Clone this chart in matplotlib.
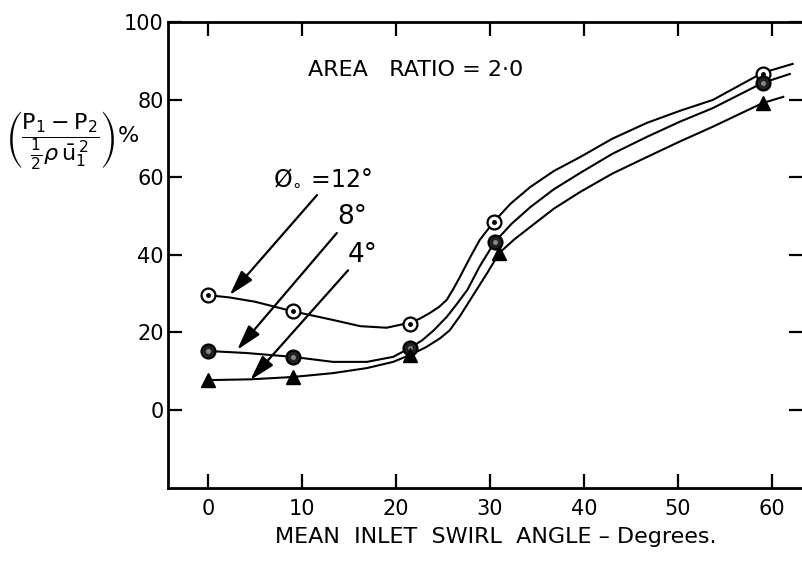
import matplotlib
matplotlib.use("Agg")
import matplotlib.pyplot as plt

# measured points (swirl angle in degrees, pressure-loss coefficient %)
x_12 = [0, 9, 21.5, 30.4, 59]
y_12 = [29.6, 25.5, 22.2, 48.5, 86.7]
x_8 = [0, 9, 21.5, 30.5, 59]
y_8 = [15.2, 13.7, 16.0, 43.3, 84.3]
x_4 = [0, 9, 21.5, 31, 59]
y_4 = [7.7, 8.5, 14.2, 40.5, 79.1]

# hand-faired curves
cx_12 = [0, 2.3, 5, 8.9, 11, 13.3, 16.2, 19, 21.3, 22.5, 23.6, 24.6, 25.4, 26.1, 26.8, 27.9, 28.9, 30.4,
         32.2, 34.3, 36.8, 39.6, 43, 46.7, 50.2, 53.7, 59, 62.2]
cy_12 = [29.6, 29.0, 27.9, 25.5, 24.4, 23.2, 21.6, 21.2, 22.4, 23.5, 25.0, 26.6, 28.4, 31.2, 34.3, 39.4, 43.8, 48.5,
         53.2, 57.5, 61.6, 65.2, 69.9, 74.0, 77.1, 79.9, 86.9, 89.2]
cx_8 = [0, 4, 9, 13.3, 16.9, 19.7, 21.5, 22.8, 24, 25.4, 26.5, 27.6, 28.9, 30.5,
        32.3, 34.3, 36.8, 39.6, 43, 46.7, 50.2, 53.7, 59, 61.9]
cy_8 = [15.2, 14.7, 13.7, 12.4, 12.4, 13.7, 16.0, 18.0, 20.5, 24.0, 27.4, 31.0, 37.0, 43.3,
        48.0, 52.3, 56.9, 61.1, 66.0, 70.4, 74.3, 77.8, 84.3, 86.6]
cx_4 = [0, 4.5, 9, 13.3, 16.9, 19.7, 21.5, 23.2, 24.7, 25.7, 26.8, 27.9, 29.7, 31,
        32.6, 34.3, 36.8, 39.6, 43, 46.7, 50.2, 53.7, 59, 61.2]
cy_4 = [7.7, 7.9, 8.5, 9.5, 10.8, 12.4, 14.2, 16.2, 18.5, 20.5, 24.2, 28.4, 35.3, 40.5,
        44.0, 47.2, 51.9, 56.2, 60.9, 65.2, 69.2, 73.0, 79.1, 80.7]

x_ticks = [0, 10, 20, 30, 40, 50, 60]
y_ticks = [0, 20, 40, 60, 80, 100]

fig = plt.figure(figsize=(8.03, 5.62), dpi=100)
ax = fig.add_axes([0.2092, 0.1317, 0.7908, 0.8292])

ax.plot(cx_12, cy_12, color="black", lw=1.5)
ax.plot(cx_8, cy_8, color="black", lw=1.5)
ax.plot(cx_4, cy_4, color="black", lw=1.5)

ax.plot(x_12, y_12, "o", ms=10, mfc="white", mec="black", mew=1.6, ls="none")
ax.plot(x_12, y_12, "o", ms=2.5, color="black", ls="none")
ax.plot(x_8, y_8, "o", ms=10, mfc="#222222", mec="black", mew=1.6, ls="none")
ax.plot(x_8, y_8, "o", ms=2.5, color="#888888", ls="none")
ax.plot(x_4, y_4, "^", ms=10, color="black", ls="none")

ax.set_xlim(-4.26, 63.3)
ax.set_ylim(-20.1, 100)
ax.set_xticks(x_ticks)
ax.set_yticks(y_ticks)
ax.tick_params(axis="both", direction="in", length=10, width=1.6, labelsize=15,
               top=True, right=True)
ax.tick_params(axis="x", pad=8)
ax.tick_params(axis="y", pad=3)
for side in ["left", "bottom", "top"]:
    ax.spines[side].set_linewidth(2)
ax.spines["right"].set_visible(False)

# labels
fig.text(496 / 803, 1 - 537 / 562, "MEAN  INLET  SWIRL  ANGLE \u2013 Degrees.",
         ha="center", va="center", fontsize=16)
fig.text(72 / 803, 1 - 140 / 562,
         r"$\left(\dfrac{\mathrm{P}_1 - \mathrm{P}_2}{\frac{1}{2}\rho\,\bar{\mathrm{u}}_1^{\,2}}\right)\%$",
         ha="center", va="center", fontsize=16)

ax.text(10.6, 87.6, "AREA   RATIO = 2\u00b70", fontsize=16, va="center")
ax.text(6.9, 59.8, "Ø$_{\\circ}$ =12°", fontsize=17, va="center")
ax.text(13.8, 49.7, "8°", fontsize=19, va="center")
ax.text(14.9, 40.0, "4°", fontsize=19, va="center")

arrow = dict(arrowstyle="-|>,head_length=1.4,head_width=0.4", lw=1.6, color="black",
             shrinkA=0, shrinkB=0, mutation_scale=11)
ax.annotate("", xy=(2.3, 29.6), xytext=(11.6, 55.4), arrowprops=arrow)
ax.annotate("", xy=(3.1, 15.5), xytext=(13.7, 45.6), arrowprops=arrow)
ax.annotate("", xy=(4.5, 7.7), xytext=(14.9, 36.0), arrowprops=arrow)

fig.savefig("out.png", dpi=100)
